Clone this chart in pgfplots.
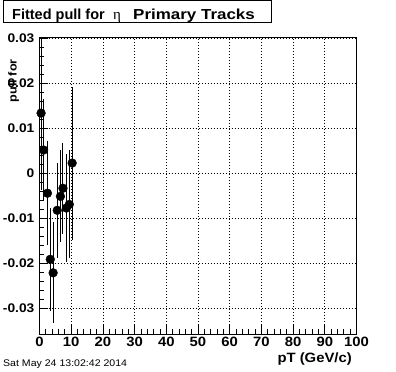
\documentclass[border=0pt]{standalone}
\usepackage{fontspec}
\setmainfont{Liberation Sans}[FakeStretch=1.1]
\newfontfamily\titlefontA{Liberation Sans}
\newfontfamily\titlefontB{Liberation Sans}[FakeStretch=1.17]
\newfontfamily\serifeta{Liberation Serif}
\usepackage{pgfplots}
\pgfplotsset{compat=1.18}
\usepackage{pgfplotstable}
\pgfplotstableread{
x y e
0.5 0.0133 0.017
1.3 0.0051 0.0113
2.5 -0.0045 0.0116
3.4 -0.0192 0.0115
4.3 -0.0222 0.0112
5.6 -0.0083 0.0105
6.6 -0.0052 0.0102
7.4 -0.0034 0.0101
8.5 -0.0078 0.0120
9.4 -0.0070 0.0120
10.3 0.0022 0.0170
}\pulldata
\begin{document}
\begin{tikzpicture}[x=1bp,y=1bp]
\useasboundingbox (0,0) rectangle (396,372);
\begin{axis}[
  at={(39.5bp,38bp)}, anchor=south west,
  scale only axis, width=317bp, height=296bp,
  xmin=0, xmax=100, ymin=-0.0358, ymax=0.03,
  xtick={0,10,20,30,40,50,60,70,80,90,100},
  xticklabels={0,10,20,30,40,50,60,70,80,90,100},
  ytick={-0.03,-0.02,-0.01,0,0.01,0.02,0.03},
  yticklabels={-0.03,-0.02,-0.01,0,0.01,0.02,0.03},
  minor x tick num=4, minor y tick num=4,
  tick align=inside, xtick pos=bottom, ytick pos=left,
  major tick length=9bp, minor tick length=5bp,
  grid=major,
  major grid style={black, dash pattern=on 1bp off 2bp, line width=0.7bp},
  axis line style={black, line width=1bp},
  every tick/.style={black, line width=0.8bp},
  xticklabel style={font=\bfseries\fontsize{13.5bp}{13.5bp}\selectfont, inner sep=0pt, anchor=north, yshift=-3bp},
  yticklabel style={font=\bfseries\fontsize{12.5bp}{12.5bp}\selectfont, inner sep=0pt, anchor=east, xshift=-5bp},
  scaled y ticks=false,
  xlabel={pT (GeV/c)},
  every axis x label/.style={at={(rel axis cs:0.9858,-0.062)}, anchor=north east, inner sep=0pt, font=\bfseries\fontsize{13.5bp}{13.5bp}\selectfont},
  ylabel={pull for},
  every axis y label/.style={at={(rel axis cs:-0.064,0.929)}, rotate=90, anchor=south east, inner sep=0pt, font=\bfseries\fontsize{11.5bp}{11.5bp}\selectfont},
]
\addplot[only marks, mark=*, mark size=4.4bp, black,
  error bars/.cd, y dir=both, y explicit, error mark=none,
  error bar style={line width=1bp, black}]
  table[x=x, y=y, y error=e] {\pulldata};
\end{axis}
\draw[line width=1bp] (3,349) rectangle (271,371);
\node[anchor=base west, inner sep=0pt, font=\titlefontA\bfseries\fontsize{14.5bp}{14.5bp}\selectfont] at (12,353) {Fitted pull for};
\node[anchor=base west, inner sep=0pt, font=\serifeta\fontsize{15bp}{15bp}\selectfont] at (113,353) {η};
\node[anchor=base west, inner sep=0pt, font=\titlefontB\bfseries\fontsize{14.5bp}{14.5bp}\selectfont] at (133,353) {Primary Tracks};
\node[anchor=base west, inner sep=0pt, font=\fontsize{9.6bp}{9.6bp}\selectfont] at (3,6) {Sat May 24 13:02:42 2014};
\end{tikzpicture}
\end{document}
